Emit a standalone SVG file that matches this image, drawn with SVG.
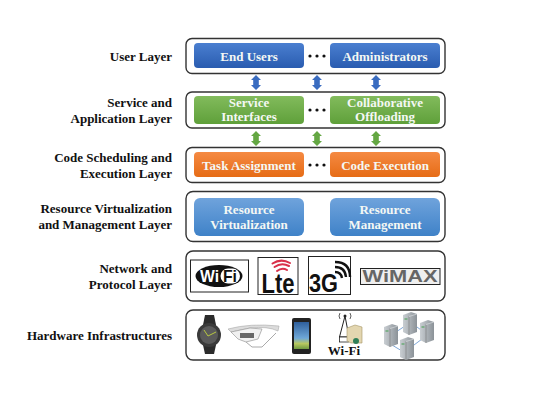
<svg xmlns="http://www.w3.org/2000/svg" width="550" height="412" viewBox="0 0 550 412">
<style>
text{font-family:"Liberation Serif","Times New Roman",serif;font-weight:bold}
.lbl{font-size:13px;fill:#111;text-anchor:end}
.in{font-size:13px;fill:#f4f8f4;text-anchor:middle}
.frame{fill:#fff;stroke:#333;stroke-width:1.400}
.d{fill:#111}
.srv{fill:url(#gs)}
.sans{font-family:"Liberation Sans",Arial,sans-serif}
</style>
<defs>
<linearGradient id="gb" x1="0" y1="0" x2="0" y2="1"><stop offset="0" stop-color="#4a7fd0"/><stop offset="1" stop-color="#2a5cb0"/></linearGradient>
<linearGradient id="gg" x1="0" y1="0" x2="0" y2="1"><stop offset="0" stop-color="#82bb5c"/><stop offset="1" stop-color="#5fa03a"/></linearGradient>
<linearGradient id="go" x1="0" y1="0" x2="0" y2="1"><stop offset="0" stop-color="#f58a43"/><stop offset="1" stop-color="#e66c16"/></linearGradient>
<linearGradient id="gl" x1="0" y1="0" x2="0" y2="1"><stop offset="0" stop-color="#6fa3dc"/><stop offset="1" stop-color="#3f82c8"/></linearGradient>
<linearGradient id="gs" x1="0" y1="0" x2="1" y2="0"><stop offset="0" stop-color="#c9ced2"/><stop offset="1" stop-color="#8b9298"/></linearGradient>
<linearGradient id="gp" x1="0" y1="0" x2="0" y2="1"><stop offset="0" stop-color="#2f5f9c"/><stop offset=".6" stop-color="#6fa8d8"/><stop offset=".8" stop-color="#b8c860"/><stop offset="1" stop-color="#6f9a40"/></linearGradient>
<path id="arr" d="M0-7.500L5-2.500H2.800V2.500H5L0 7.500L-5 2.500H-2.800V-2.500H-5Z"/>
<g id="server"><path class="srv" d="M0 3L8 0L14 2V20L6 23L0 20Z"/><path d="M6 4.500V23" stroke="#777" stroke-width=".6"/><path d="M6 4.500L14 2" stroke="#dfe3e6" stroke-width=".6"/><rect x="1.500" y="6" width="3" height="2" fill="#7fb08a"/></g>
</defs>

<g id="connectors">
<g fill="#3a6cc0"><use href="#arr" x="256" y="82.500"/><use href="#arr" x="317" y="82.500"/><use href="#arr" x="376" y="82.500"/></g>
<g fill="#64a743"><use href="#arr" x="256" y="138.500"/><use href="#arr" x="317" y="138.500"/><use href="#arr" x="376" y="138.500"/></g>
</g>

<g id="user-layer">
<text class="lbl" x="172" y="61">User Layer</text>
<rect class="frame" x="186" y="38.500" width="259" height="35" rx="6"/>
<rect x="194" y="43" width="110" height="25" rx="4" fill="url(#gb)"/>
<text class="in" x="249" y="61">End Users</text>
<rect x="330" y="43" width="110" height="25" rx="4" fill="url(#gb)"/>
<text class="in" x="385" y="61">Administrators</text>
<g class="d"><circle cx="310" cy="56" r="1.600"/><circle cx="317" cy="56" r="1.600"/><circle cx="324" cy="56" r="1.600"/></g>
</g>

<g id="service-layer">
<text class="lbl" x="172" y="107">Service and</text>
<text class="lbl" x="172" y="123">Application Layer</text>
<rect class="frame" x="186" y="92" width="259" height="36" rx="6"/>
<rect x="194" y="96" width="110" height="28" rx="4" fill="url(#gg)"/>
<text class="in" x="249" y="107">Service</text>
<text class="in" x="249" y="121">Interfaces</text>
<rect x="330" y="96" width="110" height="28" rx="4" fill="url(#gg)"/>
<text class="in" x="385" y="107">Collaborative</text>
<text class="in" x="385" y="121">Offloading</text>
<g class="d"><circle cx="310" cy="110" r="1.600"/><circle cx="317" cy="110" r="1.600"/><circle cx="324" cy="110" r="1.600"/></g>
</g>

<g id="code-layer">
<text class="lbl" x="172" y="162">Code Scheduling and</text>
<text class="lbl" x="172" y="178">Execution Layer</text>
<rect class="frame" x="186" y="147.500" width="259" height="35" rx="6"/>
<rect x="194" y="152" width="110" height="25" rx="4" fill="url(#go)"/>
<text class="in" x="249" y="170">Task Assignment</text>
<rect x="330" y="152" width="110" height="25" rx="4" fill="url(#go)"/>
<text class="in" x="385" y="170">Code Execution</text>
<g class="d"><circle cx="310" cy="165" r="1.600"/><circle cx="317" cy="165" r="1.600"/><circle cx="324" cy="165" r="1.600"/></g>
</g>

<g id="resource-layer">
<text class="lbl" x="172" y="213">Resource Virtualization</text>
<text class="lbl" x="172" y="229">and Management Layer</text>
<rect class="frame" x="186" y="191.500" width="259" height="50" rx="7"/>
<rect x="194" y="198" width="110" height="38" rx="6" fill="url(#gl)"/>
<text class="in" x="249" y="214">Resource</text>
<text class="in" x="249" y="229">Virtualization</text>
<rect x="330" y="198" width="110" height="38" rx="6" fill="url(#gl)"/>
<text class="in" x="385" y="214">Resource</text>
<text class="in" x="385" y="229">Management</text>
</g>

<g id="network-layer">
<text class="lbl" x="172" y="273">Network and</text>
<text class="lbl" x="172" y="289">Protocol Layer</text>
<rect class="frame" x="186" y="251" width="259" height="50" rx="7"/>
<rect x="190.500" y="260" width="58" height="32" fill="#fff" stroke="#222" stroke-width="1"/>
<ellipse cx="219" cy="276" rx="23.500" ry="11" fill="#111"/>
<rect x="220.500" y="268.500" width="19.500" height="15" rx="7.500" fill="#fff"/>
<text class="sans" x="200" y="282" font-size="17" fill="#fff" textLength="19" lengthAdjust="spacingAndGlyphs">Wi</text>
<text class="sans" x="223" y="282" font-size="17" fill="#111" textLength="14" lengthAdjust="spacingAndGlyphs">Fi</text>
<rect x="258" y="257.500" width="40" height="37" fill="#fff" stroke="#222" stroke-width="1"/>
<text class="sans" x="261.500" y="293" font-size="27" fill="#111" textLength="33" lengthAdjust="spacingAndGlyphs">Lte</text>
<g fill="none" stroke="#d9304a" stroke-linecap="round" stroke-width="2"><path d="M277 271Q282 267 287 270"/><path d="M274.500 267Q281.500 262 289 266"/><path d="M272.500 263.500Q281 258 290 263"/></g>
<rect x="308.500" y="256.500" width="42" height="38" fill="#fff" stroke="#222" stroke-width="1"/>
<text class="sans" x="309" y="292" font-size="26" fill="#111" textLength="29" lengthAdjust="spacingAndGlyphs">3G</text>
<g fill="none" stroke="#111" stroke-width="2.400"><path d="M335 272Q341 272 342 278"/><path d="M335 267Q345 267 346 277"/><path d="M335 262Q350 262 350 277"/></g>
<rect x="360.500" y="268.500" width="79.500" height="16" fill="#efefef" stroke="#222" stroke-width="1"/>
<text class="sans" x="400" y="282" font-size="16" fill="#666" text-anchor="middle" textLength="75" lengthAdjust="spacingAndGlyphs">WiMAX</text>
</g>

<g id="hardware-layer">
<text class="lbl" x="172" y="340">Hardware Infrastructures</text>
<rect class="frame" x="186" y="310" width="259" height="50" rx="7"/>
<path d="M205 315H214L216 325V345L214 354H205L203 345V325Z" fill="#2b2b2b"/>
<circle cx="209" cy="335" r="12" fill="#3a3a3a"/>
<circle cx="209" cy="335" r="9" fill="#5a5a5a"/>
<path d="M208 336L216 332M208 336L204 330" stroke="#b8c840" stroke-width="1"/>
<path d="M228 329Q250 323 279 326L278 331Q268 326 250 328L231 332Z" fill="#dcdcdc" stroke="#aaa" stroke-width=".6"/>
<path d="M231 332L250 328L262 329L258 339L246 342L238 339Z" fill="#f0f0f0" stroke="#999" stroke-width=".7"/>
<rect x="240" y="333" width="14" height="5" fill="#666"/>
<path d="M262 347L276 333M246 342L252 347L262 347" fill="none" stroke="#aaa" stroke-width="1"/>
<rect x="292" y="318" width="19" height="36" rx="2" fill="#222"/>
<rect x="294" y="322" width="15" height="27" fill="url(#gp)"/>
<g fill="none" stroke="#333" stroke-width=".8"><path d="M340 313Q338 316 340 319"/><path d="M350 313Q352 316 350 319"/></g>
<path d="M345 316L339.500 337H349Z" fill="#fff" stroke="#222" stroke-width="1"/>
<rect x="339.500" y="337" width="9" height="5" fill="#fff" stroke="#222" stroke-width=".8"/>
<circle cx="345" cy="316" r="1.500" fill="#222"/>
<path d="M347 328L355 325L362 327V343H351L347 341Z" fill="#e3d6b0" stroke="#a49566" stroke-width=".6"/>
<circle cx="356" cy="341" r="3" fill="#2f7f58"/>
<text x="344" y="355" font-size="13" fill="#111" text-anchor="middle">Wi-Fi</text>
<g stroke="#7fa8d8" stroke-width="1"><path d="M396 332L405 326M417 327L421 330M414 345L422 339M392 345L402 351"/></g>
<use href="#server" x="384" y="324"/>
<use href="#server" x="403" y="312"/>
<use href="#server" x="420" y="320"/>
<use href="#server" x="400" y="337"/>
</g>
</svg>
